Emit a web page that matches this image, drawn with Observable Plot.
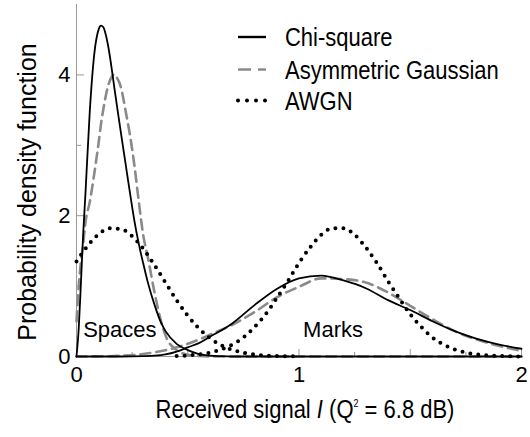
<!DOCTYPE html>
<html><head><meta charset="utf-8">
<script src="https://cdn.jsdelivr.net/npm/d3@7"></script>
<script src="https://cdn.jsdelivr.net/npm/@observablehq/plot@0.6"></script>
<style>
body{margin:0;background:#fff}
#chart svg{display:block}
</style>
</head><body><div id="chart"></div>
<script>
// ---- data ----
const spacesX    = [0, 0.01, 0.02, 0.03, 0.04, 0.06, 0.08, 0.1, 0.11, 0.12, 0.14, 0.16, 0.17, 0.18, 0.2, 0.22, 0.24, 0.26, 0.28, 0.3, 0.32, 0.35, 0.38, 0.4, 0.45, 0.5, 0.55, 0.6, 0.65, 0.7, 0.8, 0.9, 1.0, 1.5, 2.0];
const chiSpaces  = [0, 0.4, 1.05, 1.74, 2.3, 3.5, 4.3, 4.65, 4.7, 4.68, 4.45, 4.05, 3.82, 3.6, 3.17, 2.75, 2.33, 1.93, 1.6, 1.32, 1.06, 0.74, 0.48, 0.36, 0.18, 0.09, 0.035, 0.012, 0.004, 0, 0, 0, 0, 0, 0];
const asymSpaces = [0.5, 1.0, 1.35, 1.6, 1.9, 2.2, 2.6, 3.05, 3.3, 3.5, 3.82, 3.98, 4.01, 3.97, 3.82, 3.5, 3.15, 2.72, 2.2, 1.72, 1.42, 0.92, 0.5, 0.3, 0.09, 0.025, 0.006, 0, 0, 0, 0, 0, 0, 0, 0];

const marksX    = [0, 0.1, 0.2, 0.3, 0.35, 0.4, 0.45, 0.5, 0.55, 0.6, 0.7, 0.8, 0.9, 1.0, 1.1, 1.2, 1.3, 1.4, 1.5, 1.6, 1.7, 1.8, 1.9, 2.0];
const chiMarks  = [0, 0, 0, 0.005, 0.012, 0.03, 0.07, 0.13, 0.19, 0.28, 0.47, 0.73, 0.96, 1.11, 1.15, 1.08, 0.97, 0.8, 0.66, 0.5, 0.36, 0.25, 0.17, 0.11];
const asymMarks = [0, 0.002, 0.01, 0.035, 0.06, 0.09, 0.13, 0.18, 0.24, 0.31, 0.45, 0.63, 0.84, 0.99, 1.11, 1.1, 1.05, 0.91, 0.72, 0.53, 0.36, 0.24, 0.15, 0.08];

const awgnSpacesX = [0, 0.05, 0.1, 0.15, 0.2, 0.25, 0.3, 0.35, 0.4, 0.45, 0.5, 0.55, 0.6, 0.65, 0.7, 0.75, 0.8, 0.85, 0.9, 0.95, 1.0];
const awgnSpaces  = [1.35, 1.57, 1.74, 1.82, 1.81, 1.71, 1.53, 1.3, 1.05, 0.8, 0.58, 0.4, 0.26, 0.16, 0.095, 0.053, 0.028, 0.014, 0.006, 0.003, 0.001];
const awgnMarksX  = [0.45, 0.5, 0.55, 0.6, 0.65, 0.7, 0.75, 0.8, 0.85, 0.9, 0.95, 1.0, 1.05, 1.1, 1.15, 1.2, 1.25, 1.3, 1.35, 1.4, 1.45, 1.5, 1.55, 1.6, 1.65, 1.7, 1.75, 1.8, 1.85, 1.9, 1.95, 2.0];
const awgnMarks   = [0.007, 0.015, 0.03, 0.056, 0.1, 0.17, 0.27, 0.42, 0.6, 0.83, 1.07, 1.33, 1.55, 1.73, 1.82, 1.82, 1.73, 1.55, 1.33, 1.07, 0.83, 0.6, 0.42, 0.27, 0.17, 0.1, 0.056, 0.03, 0.015, 0.007, 0.003, 0.001];

const xTickLabels = [0, 1, 2];
const xHalfTicks = [0.5, 1.5];
const xQuarterTicks = [0.25, 0.75, 1.25, 1.75];
const yTickLabels = [0, 2, 4];
const yMinorTicks = [1, 3];

const seriesNames = ["Chi-square", "Asymmetric Gaussian", "AWGN"];
const regionNames = ["Spaces", "Marks"];
const regionX = [0.195, 1.153];
const regionY = [0.37, 0.38];

// ---- build tables ----
const rows = (xs, ys) => xs.map((x, i) => ({x, y: ys[i]}));
const regions = regionNames.map((t, i) => ({t, x: regionX[i], y: regionY[i]}));

const FONT = "'Liberation Sans', Arial, Helvetica, sans-serif";
const GRAY = "#9a9a9a";
const DASH_COLOR = "#8a8a8a";
const STRETCH = 1.15;

const solid = {x: "x", y: "y", stroke: "black", strokeWidth: 1.8, curve: "monotone-x"};
const dashed = {x: "x", y: "y", stroke: DASH_COLOR, strokeWidth: 2.6, strokeDasharray: "10 6", curve: "monotone-x"};
const dotted = {x: "x", y: "y", stroke: "black", strokeWidth: 4, strokeDasharray: "0 8", strokeLinecap: "round", curve: "monotone-x"};

const plot = Plot.plot({
  width: 530,
  height: 437,
  marginLeft: 76,
  marginRight: 9,
  marginTop: 4,
  marginBottom: 81,
  style: {fontFamily: FONT, fontSize: "22px", color: "black", background: "white"},
  x: {domain: [0, 2], label: null},
  y: {domain: [0, 5], label: null},
  marks: [
    Plot.ruleX([0], {stroke: GRAY}),
    Plot.ruleY([0], {stroke: GRAY}),
    Plot.tickX(xTickLabels.concat(xHalfTicks), {x: d => d, stroke: GRAY, insetTop: 345}),
    Plot.tickX(xQuarterTicks, {x: d => d, stroke: GRAY, insetTop: 348}),
    Plot.tickY(yTickLabels, {y: d => d, stroke: GRAY, insetRight: 437}),
    Plot.tickY(yMinorTicks, {y: d => d, stroke: GRAY, insetRight: 440}),
    Plot.line(rows(spacesX, asymSpaces), dashed),
    Plot.line(rows(marksX, asymMarks), dashed),
    Plot.line(rows(spacesX, chiSpaces), solid),
    Plot.line(rows(marksX, chiMarks), solid),
    Plot.line(rows(awgnSpacesX, awgnSpaces), dotted),
    Plot.line(rows(awgnMarksX, awgnMarks), dotted),
    Plot.text(regions, {x: "x", y: "y", text: "t", fontSize: 22, fill: "black"}),
    Plot.axisX({ticks: xTickLabels, tickSize: 0, tickPadding: 10, tickFormat: d => String(d), label: null, fontSize: 22}),
    Plot.axisY({ticks: yTickLabels, tickSize: 0, tickPadding: 6, tickFormat: d => String(d), label: null, fontSize: 22})
  ]
});

document.getElementById("chart").appendChild(plot);

// ---- axis titles and legend (slightly stretched vertically like the reference) ----
const svg = d3.select(plot);

const xt = svg.append("text")
  .attr("transform", `translate(305,418) scale(1,${STRETCH})`)
  .attr("text-anchor", "middle")
  .attr("font-size", 22).attr("font-family", FONT).attr("fill", "black");
xt.append("tspan").text("Received signal ");
xt.append("tspan").attr("font-style", "italic").text("I");
xt.append("tspan").text(" (Q");
xt.append("tspan").attr("font-size", 9).attr("dy", -10).text("2");
xt.append("tspan").attr("dy", 10).text(" = 6.8 dB)");

svg.append("text")
  .attr("transform", "translate(36,192) rotate(-90)")
  .attr("text-anchor", "middle")
  .attr("font-size", 25).attr("font-family", FONT).attr("fill", "black")
  .text("Probability density function");

const legendStyles = [
  {stroke: "black", width: 2.4, dash: null, cap: "butt"},
  {stroke: DASH_COLOR, width: 2.6, dash: "13 7", cap: "butt"},
  {stroke: "black", width: 4, dash: "0 9", cap: "round"}
];
const legendY = [37, 69.5, 100.5];
const lg = svg.append("g");
seriesNames.forEach((name, i) => {
  const s = legendStyles[i];
  const ln = lg.append("line")
    .attr("x1", 238).attr("x2", 266)
    .attr("y1", legendY[i]).attr("y2", legendY[i])
    .attr("stroke", s.stroke).attr("stroke-width", s.width)
    .attr("stroke-linecap", s.cap);
  if (s.dash) ln.attr("stroke-dasharray", s.dash);
  lg.append("text")
    .attr("transform", `translate(285,${legendY[i] + 9}) scale(1,${STRETCH})`)
    .attr("text-anchor", "start")
    .attr("font-size", 22).attr("font-family", FONT).attr("fill", "black")
    .text(name);
});
</script>
</body></html>
